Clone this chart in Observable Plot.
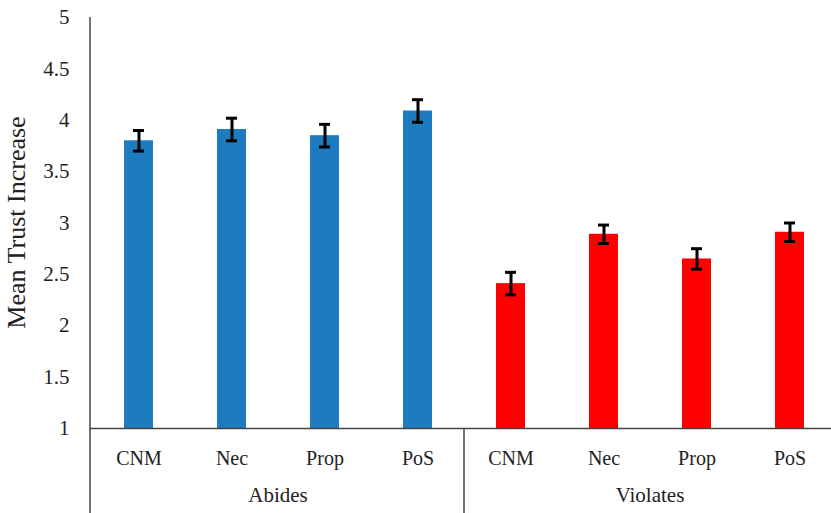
<!DOCTYPE html>
<html>
<head>
<meta charset="utf-8">
<script src="https://cdn.jsdelivr.net/npm/d3@7"></script>
<script src="https://cdn.jsdelivr.net/npm/@observablehq/plot@0.6"></script>
<style>
  html, body { margin: 0; padding: 0; background: #fff; }
  svg { display: block; }
</style>
</head>
<body>
<div id="chart"></div>
<script>
const groups = ["Abides", "Abides", "Abides", "Abides", "Violates", "Violates", "Violates", "Violates"];
const categories = ["CNM", "Nec", "Prop", "PoS", "CNM", "Nec", "Prop", "PoS"];
const means = [3.80, 3.91, 3.85, 4.09, 2.41, 2.89, 2.65, 2.91];
const errors = [0.10, 0.11, 0.11, 0.11, 0.11, 0.09, 0.10, 0.09];
const groupColors = {Abides: "#1f7bbf", Violates: "#ff0000"};
const yTicks = [1, 1.5, 2, 2.5, 3, 3.5, 4, 4.5, 5];
const yLabel = "Mean Trust Increase";

const data = categories.map((c, i) => ({
  key: groups[i] + "|" + c,
  group: groups[i],
  cat: c,
  mean: means[i],
  lo: means[i] - errors[i],
  hi: means[i] + errors[i]
}));

const font = "'Liberation Serif', 'DejaVu Serif', serif";
const ink = "#222";

const chart = Plot.plot({
  width: 831,
  height: 513,
  marginTop: 17,
  marginBottom: 85,
  marginLeft: 90,
  marginRight: 0,
  style: {fontFamily: font, fontSize: "20px", color: ink, background: "#fff"},
  x: {domain: data.map(d => d.key), range: [90, 838], paddingInner: 0.69, paddingOuter: 0.345, axis: null},
  y: {domain: [1, 5], label: null},
  marks: [
    Plot.axisY({ticks: yTicks, tickSize: 0, tickPadding: 21, fontSize: 21, tickFormat: d => String(d), label: null}),
    Plot.barY(data, {x: "key", y1: 1, y2: "mean", fill: d => groupColors[d.group]}),
    Plot.ruleX(data, {x: "key", y1: "lo", y2: "hi", stroke: "#000", strokeWidth: 3}),
    Plot.tickY(data, {x: "key", y: "hi", stroke: "#000", strokeWidth: 3, insetLeft: 9, insetRight: 9}),
    Plot.tickY(data, {x: "key", y: "lo", stroke: "#000", strokeWidth: 3, insetLeft: 9, insetRight: 9}),
    Plot.ruleY([1], {stroke: "#444", strokeWidth: 1.5}),
    Plot.text(data, {x: "key", y: () => 1, text: "cat", dy: 30, fontSize: 20, fill: ink})
  ]
});

const svg = d3.select(chart);
const xs = chart.scale("x");
const ys = chart.scale("y");
const bw = xs.bandwidth;
const step = xs.step;
const yTop = ys.apply(5);
const yBase = ys.apply(1);

// y axis line (extends down through the category area)
svg.append("line")
  .attr("x1", 90).attr("x2", 90)
  .attr("y1", yTop).attr("y2", 513)
  .attr("stroke", "#444").attr("stroke-width", 1.5);

// group labels and separators
const groupNames = Array.from(new Set(groups));
groupNames.forEach((g, gi) => {
  const keys = data.filter(d => d.group === g).map(d => d.key);
  const centers = keys.map(k => xs.apply(k) + bw / 2);
  const cx = d3.mean(centers);
  svg.append("text")
    .attr("x", cx).attr("y", yBase + 69)
    .attr("text-anchor", "middle")
    .attr("dominant-baseline", "middle")
    .attr("font-family", font).attr("font-size", 21).attr("fill", ink)
    .text(g);
  if (gi > 0) {
    const sx = xs.apply(keys[0]) + bw / 2 - step / 2;
    svg.append("line")
      .attr("x1", sx).attr("x2", sx)
      .attr("y1", yBase).attr("y2", 513)
      .attr("stroke", "#444").attr("stroke-width", 1.5);
  }
});

// y axis title
svg.append("text")
  .attr("transform", `translate(19, ${(yTop + yBase) / 2}) rotate(-90)`)
  .attr("text-anchor", "middle")
  .attr("dominant-baseline", "middle")
  .attr("font-family", font).attr("font-size", 26).attr("fill", ink)
  .text(yLabel);

document.getElementById("chart").appendChild(chart);
</script>
</body>
</html>
